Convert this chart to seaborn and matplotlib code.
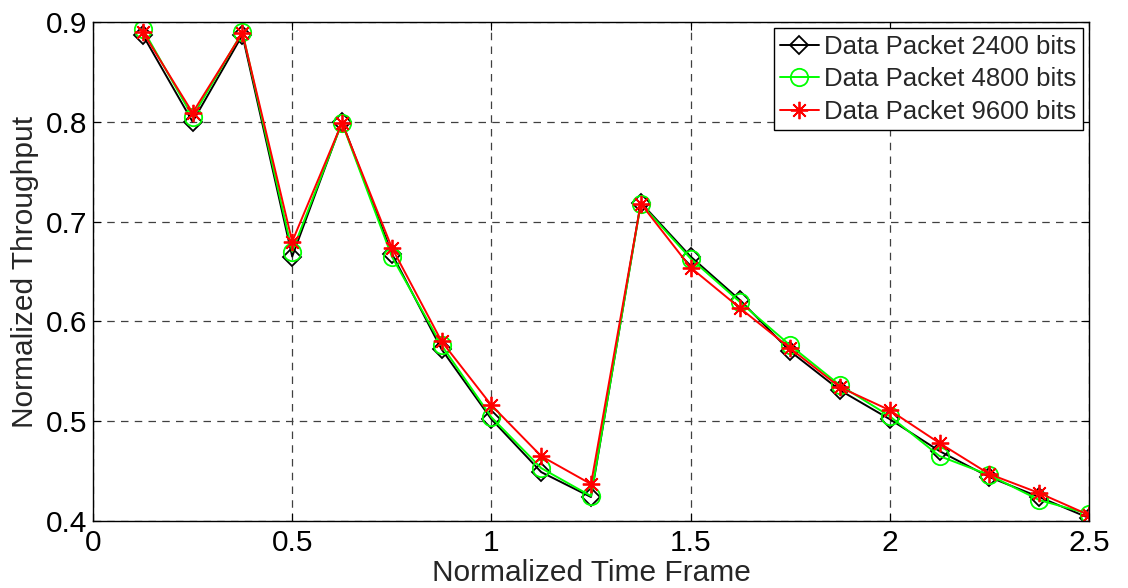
import numpy as np
import pandas as pd
import matplotlib
matplotlib.use("Agg")
import matplotlib.pyplot as plt
import seaborn as sns

# Normalized time frame sample points
time_frame = [0.125, 0.25, 0.375, 0.5, 0.625, 0.75, 0.875, 1.0, 1.125, 1.25,
              1.375, 1.5, 1.625, 1.75, 1.875, 2.0, 2.125, 2.25, 2.375, 2.5]

# Normalized throughput for each data packet size
tp_2400 = [0.887, 0.800, 0.887, 0.665, 0.800, 0.668, 0.572, 0.502, 0.449, 0.424,
           0.719, 0.665, 0.621, 0.570, 0.531, 0.502, 0.470, 0.444, 0.424, 0.403]
tp_4800 = [0.893, 0.805, 0.890, 0.670, 0.799, 0.665, 0.576, 0.504, 0.453, 0.425,
           0.718, 0.663, 0.619, 0.576, 0.536, 0.505, 0.465, 0.446, 0.421, 0.407]
tp_9600 = [0.890, 0.809, 0.889, 0.680, 0.799, 0.674, 0.580, 0.516, 0.465, 0.437,
           0.718, 0.654, 0.613, 0.573, 0.534, 0.511, 0.478, 0.447, 0.428, 0.406]

series_names = ["Data Packet 2400 bits", "Data Packet 4800 bits", "Data Packet 9600 bits"]
x_ticks = [0, 0.5, 1, 1.5, 2, 2.5]
x_tick_labels = ["0", "0.5", "1", "1.5", "2", "2.5"]
y_ticks = [0.4, 0.5, 0.6, 0.7, 0.8, 0.9]
y_tick_labels = ["0.4", "0.5", "0.6", "0.7", "0.8", "0.9"]

sns.set_theme(style="white")
plt.rcParams["font.family"] = ["Liberation Sans", "DejaVu Sans"]

df = pd.DataFrame({
    "t": time_frame * 3,
    "thr": tp_2400 + tp_4800 + tp_9600,
    "series": np.repeat(series_names, len(time_frame)),
})

fig = plt.figure(figsize=(11.28, 5.88), dpi=100)
ax = fig.add_axes([93 / 1128, 1 - 521 / 588, (1089 - 93) / 1128, (521 - 22) / 588])

styles = {
    series_names[0]: dict(color="black", marker="D", markersize=9,
                          markerfacecolor="none", markeredgecolor="black"),
    series_names[1]: dict(color="#00ff00", marker="o", markersize=12.5,
                          markerfacecolor="none", markeredgecolor="#00ff00"),
    series_names[2]: dict(color="#ff0000", marker=(8, 2, 0), markersize=12.5,
                          markeredgecolor="#ff0000"),
}

for name in series_names:
    sub = df[df["series"] == name]
    st = styles[name]
    sns.lineplot(data=sub, x="t", y="thr", ax=ax, label=name, color=st["color"],
                 marker=st["marker"], markersize=st["markersize"],
                 markerfacecolor=st.get("markerfacecolor", st["color"]),
                 markeredgecolor=st["markeredgecolor"], markeredgewidth=1.3,
                 linewidth=1.4, estimator=None, sort=False)

ax.set_xlim(0, 2.5)
ax.set_ylim(0.4, 0.9)
ax.set_xticks(x_ticks)
ax.set_xticklabels(x_tick_labels)
ax.set_yticks(y_ticks)
ax.set_yticklabels(y_tick_labels)

ax.grid(True, color="0.25", linestyle=(0, (6, 5)), linewidth=0.9)
ax.set_axisbelow(True)
for sp in ax.spines.values():
    sp.set_visible(True)
    sp.set_color("black")
    sp.set_linewidth(1.0)

ax.tick_params(axis="both", which="both", direction="in", length=6, width=0.8,
               top=True, right=True, bottom=True, left=True,
               labelsize=21.5, colors="black")
ax.tick_params(axis="x", pad=6)
ax.tick_params(axis="y", pad=4)

ax.set_xlabel("Normalized Time Frame", fontsize=21.5, labelpad=1.5)
ax.set_ylabel("Normalized Throughput", fontsize=21.5, labelpad=5)

leg = ax.legend(loc="upper right", fontsize=18.5, frameon=True, fancybox=False,
                framealpha=1, edgecolor="black", borderaxespad=0.25,
                handlelength=1.5, handletextpad=0.2, labelspacing=0.33,
                borderpad=0.25)
leg.get_frame().set_linewidth(1.0)

fig.savefig("out.png", dpi=100)
